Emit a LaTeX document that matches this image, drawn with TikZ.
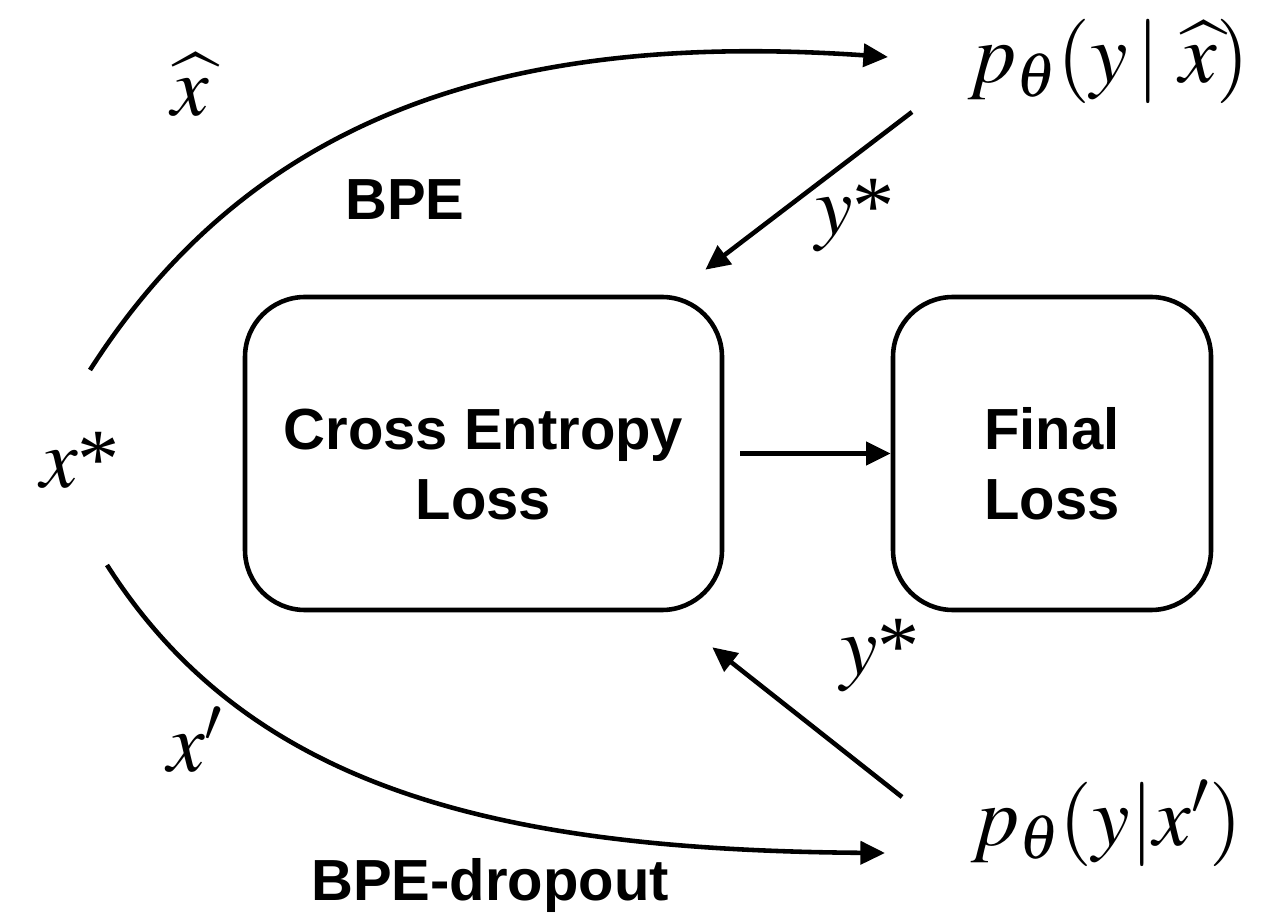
\documentclass[tikz,border=0pt]{standalone}
\usepackage{mathptmx}
\usepackage{fontspec}
\setmainfont{Liberation Sans}
\newfontfamily\serifstar{Liberation Serif}
\newcommand{\sstar}{\mbox{\serifstar *}}
\usetikzlibrary{arrows.meta}
\begin{document}
\begin{tikzpicture}[
    line width=2.6pt,
    >={Triangle[length=14pt,width=13pt]},
    lossbox/.style={draw, rounded corners=1.2cm, minimum height=6.26cm,
      align=center, font=\bfseries\fontsize{33}{40}\selectfont},
    tag/.style={font=\bfseries\fontsize{33}{40}\selectfont},
    sym/.style={inner sep=2pt, font=\fontsize{48}{56}\selectfont}]
  \useasboundingbox (0,0) rectangle (25.32,18.38);
  \draw
    (9.67,9.31) node[lossbox, minimum width=9.54cm] (ce) {\rule{0pt}{36pt}Cross Entropy\\Loss}
    (21.04,9.31) node[lossbox, minimum width=6.36cm] (final) {\rule{0pt}{36pt}Final\\Loss}
    (1.6,9.18) node[sym] (xstar) {$x$\sstar}
    (19.25,16.72) node[sym, anchor=base west] (ptop) {$p_\theta(y\,|\;\widehat{x})$}
    (19.3,1.48) node[sym, anchor=base west] (pbot) {$p_\theta(y|x')$}
    (3.8,16.68) node[sym] (xhat) {$\widehat{x}$}
    (3.9,3.58) node[sym] (xprime) {$x'$}
    (17.1,14.08) node[sym] (ytop) {$y$\sstar}
    (17.6,5.28) node[sym] (ybot) {$y$\sstar}
    (8.1,14.38) node[tag] (bpe) {BPE}
    (9.8,0.68) node[tag] (drop) {BPE-dropout};
  \begin{scope}[->]
    \draw ([xshift=0.32cm]ce.east) -- (final.west);
    \draw ([shift={(0.2,1.8)}]xstar.center) .. controls (5.0,15.98) and (10.0,17.78) .. ([shift={(-1.49,0.52)}]ptop.base west);
    \draw ([shift={(0.54,-2.1)}]xstar.center) .. controls (5.0,2.58) and (10.0,1.38) .. ([shift={(-1.6,-0.16)}]pbot.base west);
    \draw ([shift={(-1.01,-0.58)}]ptop.base west) -- ([shift={(-0.38,0.5)}]ce.north east);
    \draw ([shift={(-1.26,0.96)}]pbot.base west) -- ([shift={(-0.24,-0.7)}]ce.south east);
  \end{scope}
\end{tikzpicture}
\end{document}
